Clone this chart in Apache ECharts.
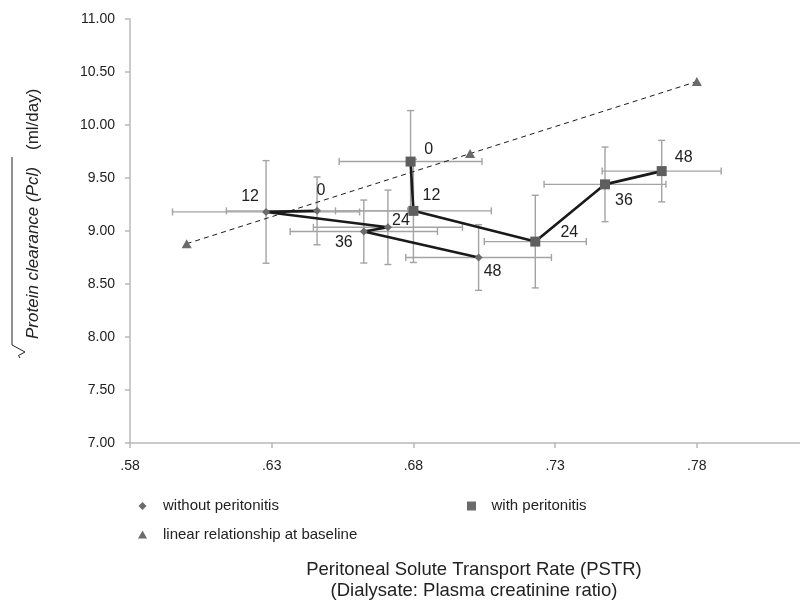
<!DOCTYPE html>
<html><head><meta charset="utf-8">
<script src="https://cdn.jsdelivr.net/npm/echarts@6/dist/echarts.min.js"></script>
<style>html,body{margin:0;padding:0;background:#fff}#c{width:800px;height:601px}</style>
</head><body><div id="c"></div>
<script>
// ---- data ----
const timeLabels = ['0', '12', '24', '36', '48'];
const withoutX = [0.646, 0.628, 0.671, 0.6625, 0.703];
const withoutY = [9.19, 9.18, 9.035, 8.995, 8.75];
const withoutXErr = [0.032, 0.033, 0.0263, 0.026, 0.0257];
const withoutYErr = [0.32, 0.484, 0.351, 0.297, 0.31];
const withX = [0.679, 0.680, 0.723, 0.7476, 0.7676];
const withY = [9.655, 9.19, 8.90, 9.44, 9.565];
const withXErr = [0.0252, 0.0275, 0.018, 0.0215, 0.021];
const withYErr = [0.481, 0.487, 0.437, 0.352, 0.29];
const baselineX = [0.60, 0.70, 0.78];
const baselineY = [8.88, 9.73, 10.41];
const xMin = 0.58, xStep = 0.05, xMax = 0.8164;
const yMin = 7, yStep = 0.5, yMax = 11;

// ---- label placement (style) ----
const withoutLabelOffset = [[4, -20], [-16, -15], [13, -7], [-20, 11], [14, 14]];
const withLabelOffset = [[18, -12], [18, -15], [34, -9], [19, 16], [22, -14]];

const FONT = "'Liberation Sans', Arial, sans-serif";
const TXT = '#222';
const BAR = '#a3a3a3';

function errRender(params, api) {
  const x = api.value(0), y = api.value(1), ex = api.value(2), ey = api.value(3);
  const l = api.coord([x - ex, y]), r = api.coord([x + ex, y]);
  const t = api.coord([x, y + ey]), b = api.coord([x, y - ey]);
  const c = 3.5;
  const style = { stroke: BAR, lineWidth: 1.4 };
  const ln = (x1, y1, x2, y2) => ({ type: 'line', shape: { x1, y1, x2, y2 }, style });
  return {
    type: 'group',
    children: [
      ln(l[0], l[1], r[0], r[1]),
      ln(l[0], l[1] - c, l[0], l[1] + c),
      ln(r[0], r[1] - c, r[0], r[1] + c),
      ln(t[0], t[1], b[0], b[1]),
      ln(t[0] - c, t[1], t[0] + c, t[1]),
      ln(b[0] - c, b[1], b[0] + c, b[1])
    ]
  };
}

function errData(xs, ys, exs, eys) {
  return xs.map((x, i) => [x, ys[i], exs[i], eys[i]]);
}
function ptData(xs, ys, offs) {
  return xs.map((x, i) => ({
    value: [x, ys[i]],
    name: timeLabels[i],
    label: { offset: offs[i] }
  }));
}

const chart = echarts.init(document.getElementById('c'), null, { renderer: 'canvas' });
const labelStyle = {
  show: true, position: 'inside', formatter: p => p.name,
  fontSize: 16, color: TXT, fontFamily: FONT
};
const legendText = { fontSize: 15, color: TXT, fontFamily: FONT };

chart.setOption({
  animation: false,
  backgroundColor: '#fff',
  textStyle: { fontFamily: FONT },
  grid: { left: 130, right: 0, top: 19, bottom: 158, containLabel: false, outerBoundsMode: 'none' },
  xAxis: {
    type: 'value', min: xMin, max: xMax, interval: xStep,
    axisLine: { show: true, lineStyle: { color: '#b8b8b8', width: 1.5 } },
    axisTick: { show: true, length: 5, lineStyle: { color: '#b8b8b8', width: 1.5 } },
    splitLine: { show: false },
    axisLabel: {
      margin: 16, fontSize: 14, color: TXT, fontFamily: FONT, showMaxLabel: false,
      formatter: v => v.toFixed(2).replace(/^0/, '')
    },
    name: 'Peritoneal Solute Transport Rate (PSTR)\n(Dialysate: Plasma creatinine ratio)',
    nameLocation: 'middle', nameGap: 116,
    nameTextStyle: { fontSize: 18.5, lineHeight: 21, color: TXT, fontFamily: FONT, padding: [0, 0, 0, 18] }
  },
  yAxis: {
    type: 'value', min: yMin, max: yMax, interval: yStep,
    axisLine: { show: true, lineStyle: { color: '#b8b8b8', width: 1.5 } },
    axisTick: { show: true, length: 5, lineStyle: { color: '#b8b8b8', width: 1.5 } },
    splitLine: { show: false },
    axisLabel: { margin: 15, fontSize: 14, color: TXT, fontFamily: FONT, formatter: v => v.toFixed(2) }
  },
  legend: [
    { data: [{ name: 'without peritonitis', icon: 'diamond' }], left: 138.5, top: 498.5, padding: 0,
      itemWidth: 8, itemHeight: 8, itemStyle: { color: '#6b6b6b' },
      textStyle: Object.assign({ padding: [0, 0, 0, 11.5] }, legendText) },
    { data: [{ name: 'with peritonitis', icon: 'rect' }], left: 467, top: 498.5, padding: 0,
      itemWidth: 9, itemHeight: 9, itemStyle: { color: '#6b6b6b' },
      textStyle: Object.assign({ padding: [0, 0, 0, 10.5] }, legendText) },
    { data: [{ name: 'linear relationship at baseline', icon: 'triangle' }], left: 138, top: 527, padding: 0,
      itemWidth: 9, itemHeight: 8, itemStyle: { color: '#6b6b6b' },
      textStyle: Object.assign({ padding: [0, 0, 0, 11] }, legendText) }
  ],
  graphic: [
    // radical sign and its overline for the y-axis title
    { type: 'polyline', shape: { points: [[20, 358], [18.5, 355.5], [25, 352], [12, 345], [12, 157]] },
      style: { stroke: TXT, lineWidth: 1, fill: null } },
    { type: 'text', x: 33, y: 339, rotation: Math.PI / 2,
      style: { text: 'Protein clearance (Pcl)', font: 'italic 17px ' + FONT, fill: TXT,
               align: 'left', verticalAlign: 'middle' } },
    { type: 'text', x: 33, y: 150, rotation: Math.PI / 2,
      style: { text: '(ml/day)', font: '17px ' + FONT, fill: TXT,
               align: 'left', verticalAlign: 'middle' } }
  ],
  series: [
    { type: 'custom', name: 'err-without', renderItem: errRender, z: 1,
      data: errData(withoutX, withoutY, withoutXErr, withoutYErr), encode: { x: 0, y: 1 }, silent: true },
    { type: 'custom', name: 'err-with', renderItem: errRender, z: 1,
      data: errData(withX, withY, withXErr, withYErr), encode: { x: 0, y: 1 }, silent: true },
    { type: 'line', name: 'linear relationship at baseline', z: 2,
      data: baselineX.map((x, i) => [x, baselineY[i]]),
      symbol: 'triangle', symbolSize: [10, 9], showAllSymbol: true,
      itemStyle: { color: '#6b6b6b' },
      lineStyle: { color: '#1a1a1a', width: 1, type: [5, 4] } },
    { type: 'line', name: 'without peritonitis', z: 3,
      data: ptData(withoutX, withoutY, withoutLabelOffset),
      symbol: 'diamond', symbolSize: 8, showAllSymbol: true,
      itemStyle: { color: '#6b6b6b' },
      lineStyle: { color: '#1a1a1a', width: 2.6 },
      label: labelStyle },
    { type: 'line', name: 'with peritonitis', z: 3,
      data: ptData(withX, withY, withLabelOffset),
      symbol: 'rect', symbolSize: 10, showAllSymbol: true,
      itemStyle: { color: '#5e5e5e' },
      lineStyle: { color: '#1a1a1a', width: 2.6 },
      label: labelStyle }
  ]
});
</script>
</body></html>
